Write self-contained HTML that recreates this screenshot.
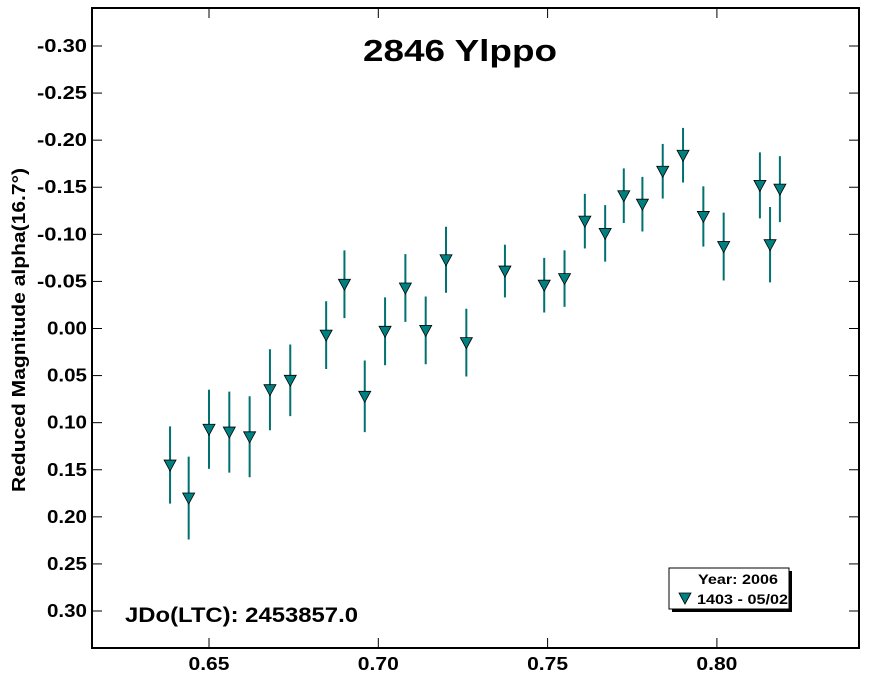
<!DOCTYPE html>
<html><head><meta charset="utf-8"><style>
body{margin:0;background:#fff;}
svg{display:block;font-family:"Liberation Sans",Arial,sans-serif;font-weight:bold;}
</style></head><body>
<svg id="chart" width="870" height="681" viewBox="0 0 870 681" xmlns="http://www.w3.org/2000/svg">
<rect x="92" y="8" width="767" height="640" fill="none" stroke="#000" stroke-width="2"/>
<g id="axes"></g>
<g id="marks"></g>
<text x="363" y="61" font-size="31" textLength="194" lengthAdjust="spacingAndGlyphs">2846 Ylppo</text>
<text transform="translate(25,492) rotate(-90)" font-size="18" textLength="324" lengthAdjust="spacingAndGlyphs">Reduced Magnitude alpha(16.7°)</text>
<text x="125" y="622" font-size="21" textLength="233" lengthAdjust="spacingAndGlyphs">JDo(LTC): 2453857.0</text>
<g>
<rect x="672" y="571" width="120" height="41" fill="#000"/>
<rect x="669" y="568" width="120" height="41" fill="#fff" stroke="#000" stroke-width="1"/>
<text x="698" y="584" font-size="14" textLength="80" lengthAdjust="spacingAndGlyphs">Year: 2006</text>
<path d="M679,593 L691,593 L685,604 Z" fill="#008080" stroke="#000" stroke-width="0.8"/>
<text x="697" y="604" font-size="14" textLength="91" lengthAdjust="spacingAndGlyphs">1403 - 05/02</text>
</g>
</svg>
<script>
const xVals=[0.6385,0.644,0.650,0.656,0.662,0.668,0.674,0.6846,0.690,0.696,0.702,0.708,0.714,0.720,0.726,0.7374,0.749,0.755,0.761,0.767,0.7725,0.778,0.784,0.790,0.796,0.802,0.8127,0.8157,0.8186];
const yVals=[0.145,0.18,0.107,0.11,0.115,0.065,0.055,0.007,-0.047,0.072,0.003,-0.043,0.002,-0.073,0.015,-0.061,-0.046,-0.053,-0.114,-0.101,-0.141,-0.132,-0.167,-0.184,-0.119,-0.087,-0.152,-0.089,-0.148];
const yErr=[0.041,0.044,0.042,0.043,0.043,0.043,0.038,0.036,0.036,0.038,0.036,0.036,0.036,0.035,0.036,0.028,0.029,0.03,0.029,0.03,0.029,0.029,0.029,0.029,0.032,0.036,0.035,0.04,0.035];
const xTicks=[0.65,0.70,0.75,0.80];
const yTicks=[-0.30,-0.25,-0.20,-0.15,-0.10,-0.05,0.00,0.05,0.10,0.15,0.20,0.25,0.30];
const NS="http://www.w3.org/2000/svg";
function X(v){return 209+(v-0.65)*3386;}
function Y(v){return 328.5+v*941.7;}
function mk(tag,attrs){const e=document.createElementNS(NS,tag);for(const k in attrs)e.setAttribute(k,attrs[k]);return e;}
const axes=document.getElementById('axes'),marks=document.getElementById('marks');
xTicks.forEach(t=>{
 const x=X(t);
 const l=mk('line',{x1:x,x2:x,y1:648,y2:638,stroke:'#000','stroke-width':1});
 
 
 axes.appendChild(l);
 const l2=mk('line',{x1:x,x2:x,y1:8,y2:18,stroke:'#000','stroke-width':1});
 
 
 axes.appendChild(l2);
 const tx=mk('text',{x:x-20.5,y:670,'font-size':18,textLength:41,lengthAdjust:'spacingAndGlyphs'});
 tx.textContent=t.toFixed(2);
 
 
 axes.appendChild(tx);
});
yTicks.forEach(t=>{
 const y=Y(t);
 const l=mk('line',{x1:92,x2:102,y1:y,y2:y,stroke:'#000','stroke-width':1});
 
 
 axes.appendChild(l);
 const l2=mk('line',{x1:849,x2:859,y1:y,y2:y,stroke:'#000','stroke-width':1});
 
 
 axes.appendChild(l2);
 const neg=t<0;
 const w=neg?50:40;
 const tx=mk('text',{x:87-w,y:y+6,'font-size':18,textLength:w,lengthAdjust:'spacingAndGlyphs'});
 tx.textContent=(neg?'-':'')+Math.abs(t).toFixed(2);
 
 
 axes.appendChild(tx);
});
xVals.forEach((xv,i)=>{
 const x=X(xv),y=Y(yVals[i]);
 const e=mk('line',{x1:x,x2:x,y1:Y(yVals[i]-yErr[i]),y2:Y(yVals[i]+yErr[i]),stroke:'#007070','stroke-width':2});
 
 
 marks.appendChild(e);
 const p=mk('path',{d:`M${x-6},${y-5} L${x+6},${y-5} L${x},${y+6} Z`,fill:'#008080',stroke:'#000','stroke-width':0.8});
 
 
 marks.appendChild(p);
});
</script>
</body></html>
